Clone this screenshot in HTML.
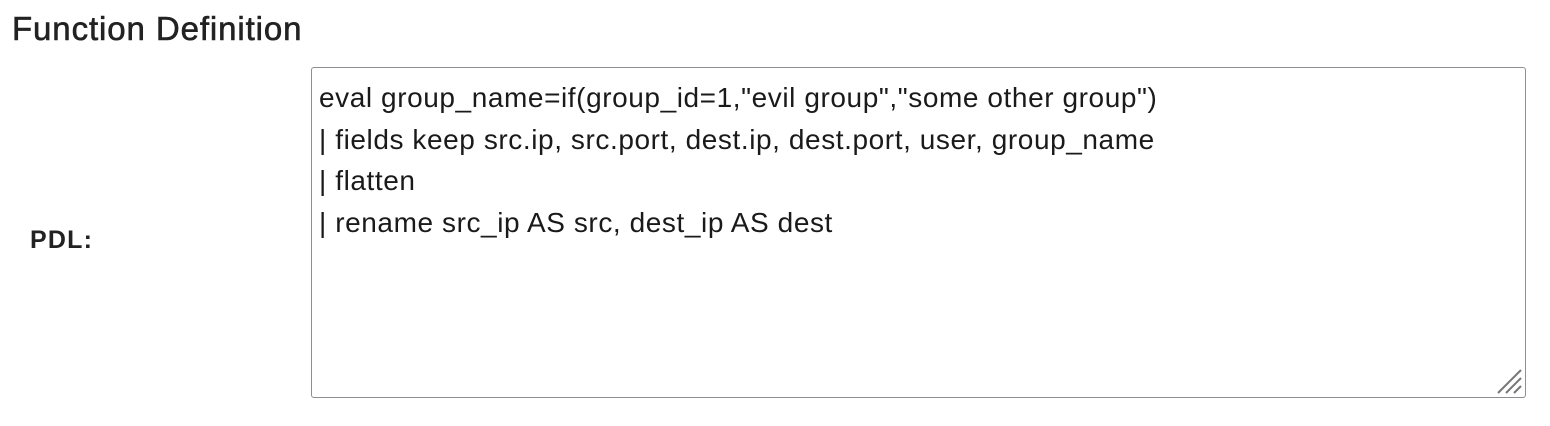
<!DOCTYPE html>
<html><head><style>
body{margin:0;width:1550px;height:426px;background:#fff;position:relative;font-family:"Liberation Sans",sans-serif;overflow:hidden}
.t{position:absolute;left:12px;top:10px;font-size:33px;letter-spacing:0.9px;color:#222;-webkit-text-stroke:0.6px #222;white-space:nowrap}
.p{position:absolute;left:30px;top:226px;font-size:25px;letter-spacing:1.2px;font-weight:bold;color:#222}
.box{position:absolute;left:311px;top:67px;width:1213px;height:329px;border:1.5px solid #8e8e95;border-radius:3px}
.tx{position:absolute;left:319px;top:77px;font-size:28px;letter-spacing:0.58px;line-height:41.5px;color:#1a1a1a;white-space:pre}
</style></head><body>
<div class="t">Function Definition</div>
<div class="p">PDL:</div>
<div class="box"></div>
<div class="tx">eval group_name=if(group_id=1,"evil group","some other group")
| fields keep src.ip, src.port, dest.ip, dest.port, user, group_name
| flatten
| rename src_ip AS src, dest_ip AS dest</div>
<svg style="position:absolute;left:1495px;top:367px" width="30" height="30">
<g stroke="#777" stroke-width="2"><line x1="3" y1="26" x2="26" y2="3"/><line x1="11" y1="26" x2="26" y2="11"/><line x1="19" y1="26" x2="26" y2="19"/></g></svg>
</body></html>
